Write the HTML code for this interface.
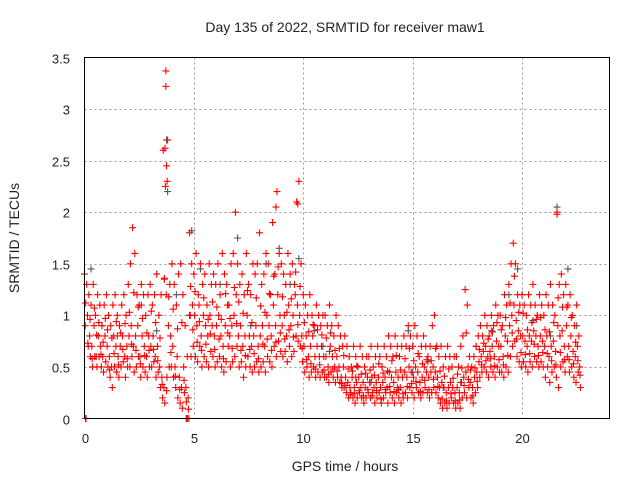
<!DOCTYPE html>
<html><head><meta charset="utf-8"><style>
body{margin:0;background:#fff}
svg{display:block;font-family:"Liberation Sans",sans-serif}
</style></head><body>
<svg id="chart" width="640" height="480" viewBox="0 0 640 480">
<rect x="0" y="0" width="640" height="480" fill="#fff"/>
<g id="grid"></g>
<g id="grey"></g>
<g id="red"></g>
<rect x="84.5" y="57.5" width="525" height="361" fill="none" stroke="#000" stroke-width="1"/>
<g id="ticks" font-size="13" fill="#222"></g>
<text x="345" y="32" text-anchor="middle" font-size="14" fill="#222">Day 135 of 2022, SRMTID for receiver maw1</text>
<text x="345" y="471" text-anchor="middle" font-size="14" fill="#222">GPS time / hours</text>
<text transform="translate(19,238) rotate(-90)" text-anchor="middle" font-size="14" fill="#222">SRMTID / TECUs</text>
</svg>
<script>
const xTicks=[0,5,10,15,20];
const yTicks=[0,0.5,1,1.5,2,2.5,3,3.5];
const yTickLabels=["0","0.5","1","1.5","2","2.5","3","3.5"];
const redHi=[1.4,1.3,1.2,1.1,1.3,1.0,1.2,1.1,0.9,1.1,
1.2,1.0,0.9,1.1,1.2,1.0,0.9,1.1,1.2,1.0,
1.3,1.5,1.85,1.6,1.2,1.1,1.3,1.2,1.0,1.2,
1.3,1.1,1.2,1.4,1.0,1.2,2.6,2.25,2.7,1.3,
1.5,1.3,1.1,1.4,1.5,1.2,0.9,0.6,1.8,1.5,
1.4,1.6,1.2,1.5,1.3,1.4,1.1,1.5,1.3,1.4,
1.3,1.5,1.2,1.6,1.4,1.3,1.1,1.5,1.6,2.0,
1.5,1.3,1.4,1.2,1.6,1.3,1.2,1.5,1.4,1.5,
1.8,1.3,1.4,1.6,1.5,1.2,1.9,1.4,2.2,1.6,
1.5,1.4,1.3,1.6,1.4,1.5,1.3,2.1,2.3,1.5,
1.2,1.1,1.0,1.2,1.0,0.9,1.1,1.0,0.9,1.0,
1.0,0.9,1.1,0.9,0.8,1.0,0.9,0.8,0.7,0.8,
0.7,0.6,0.5,0.7,0.6,0.5,0.7,0.6,0.5,0.6,
0.6,0.7,0.5,0.6,0.7,0.6,0.5,0.7,0.6,0.8,
0.7,0.6,0.8,0.7,0.6,0.7,0.8,0.7,0.9,0.8,
0.7,0.9,0.8,0.6,0.7,0.8,0.7,0.6,0.7,0.9,
1.0,0.7,0.6,0.7,0.5,0.6,0.7,0.6,0.5,0.6,
0.6,0.5,0.7,0.8,1.25,1.1,0.6,0.5,0.6,0.7,
0.8,0.9,0.8,1.0,0.9,0.8,1.0,0.9,1.1,1.0,
1.0,0.9,1.2,1.1,1.3,1.5,1.7,1.5,1.2,1.1,
1.2,1.1,1.0,1.2,1.1,1.3,1.1,1.0,1.2,1.1,
1.0,1.2,1.1,1.3,1.1,1.0,2.0,1.3,1.4,1.2,
1.3,1.1,1.2,1.0,0.9,1.1,0.8];
const redMid=[0.9,1.0,0.8,0.7,0.9,0.6,0.8,0.7,0.6,0.8,
0.7,0.6,0.5,0.8,0.7,0.6,0.7,0.8,0.6,0.7,
0.8,0.9,0.7,0.8,0.9,0.6,0.8,0.7,0.6,0.8,
0.7,0.8,0.6,0.7,0.5,0.4,0.3,1.2,0.9,0.8,
0.7,0.5,0.6,0.4,0.3,0.5,0.3,0.2,1.0,1.1,
1.0,0.9,1.1,0.8,1.0,0.9,0.8,1.0,0.9,0.8,
0.9,1.0,0.8,0.7,0.9,1.1,0.8,0.9,1.0,1.2,
0.8,0.9,0.7,0.8,1.0,0.8,0.7,0.8,0.9,0.7,
0.8,0.9,0.7,1.0,0.9,0.8,1.1,0.9,1.2,1.0,
0.9,1.0,0.8,1.1,0.9,1.0,1.2,1.1,1.0,0.8,
0.7,0.8,0.6,0.7,0.8,0.6,0.7,0.6,0.7,0.6,
0.6,0.5,0.7,0.6,0.5,0.6,0.5,0.4,0.5,0.4,
0.35,0.3,0.4,0.3,0.35,0.4,0.3,0.35,0.3,0.4,
0.35,0.4,0.3,0.35,0.4,0.3,0.35,0.4,0.3,0.45,
0.4,0.35,0.45,0.4,0.3,0.4,0.45,0.4,0.5,0.45,
0.4,0.5,0.45,0.35,0.4,0.5,0.45,0.4,0.45,0.5,
0.45,0.4,0.3,0.35,0.3,0.25,0.3,0.35,0.3,0.25,
0.3,0.25,0.35,0.4,0.45,0.5,0.35,0.3,0.4,0.45,
0.55,0.6,0.65,0.7,0.6,0.65,0.7,0.6,0.75,0.7,
0.7,0.6,0.8,0.75,0.9,1.0,1.1,0.95,0.85,0.8,
0.8,0.75,0.7,0.8,0.75,0.85,0.8,0.7,0.8,0.75,
0.7,0.8,0.6,0.7,0.75,0.65,0.9,0.8,0.85,0.7,
0.9,0.7,0.8,0.65,0.6,0.7,0.5];
const redLo=[0.0,0.7,0.6,0.5,0.6,0.5,0.6,0.5,0.45,0.55,
0.5,0.4,0.3,0.5,0.45,0.4,0.5,0.55,0.4,0.5,
0.5,0.6,0.45,0.5,0.6,0.4,0.5,0.45,0.4,0.5,
0.5,0.55,0.4,0.45,0.3,0.2,0.15,0.4,0.5,0.5,
0.4,0.3,0.2,0.15,0.1,0.25,0.0,0.0,0.6,0.7,
0.6,0.55,0.7,0.5,0.6,0.55,0.5,0.65,0.6,0.5,
0.55,0.6,0.5,0.45,0.55,0.7,0.5,0.55,0.6,0.7,
0.5,0.55,0.4,0.5,0.6,0.5,0.45,0.5,0.55,0.45,
0.5,0.55,0.45,0.6,0.55,0.5,0.7,0.6,0.75,0.65,
0.6,0.65,0.55,0.7,0.6,0.65,0.8,0.75,0.7,0.55,
0.45,0.5,0.4,0.45,0.5,0.4,0.45,0.4,0.45,0.4,
0.4,0.35,0.45,0.4,0.35,0.4,0.35,0.3,0.3,0.25,
0.2,0.25,0.2,0.15,0.2,0.25,0.2,0.15,0.2,0.25,
0.2,0.25,0.15,0.2,0.25,0.15,0.2,0.25,0.15,0.25,
0.2,0.15,0.25,0.2,0.15,0.2,0.25,0.2,0.3,0.25,
0.2,0.3,0.25,0.2,0.25,0.3,0.25,0.2,0.25,0.3,
0.25,0.2,0.15,0.1,0.15,0.1,0.15,0.2,0.15,0.1,
0.15,0.1,0.2,0.25,0.2,0.3,0.2,0.15,0.25,0.3,
0.4,0.45,0.5,0.45,0.4,0.5,0.45,0.4,0.5,0.45,
0.45,0.4,0.5,0.45,0.6,0.7,0.75,0.6,0.55,0.5,
0.55,0.5,0.45,0.55,0.5,0.6,0.55,0.5,0.55,0.5,
0.4,0.5,0.35,0.45,0.5,0.4,0.3,0.5,0.55,0.45,
0.6,0.45,0.5,0.4,0.35,0.45,0.3];
const redFill=[1.12,0.73,0.96,0.58,1.07,0.81,0.93,0.62,0.74,0.97,
0.86,0.47,0.78,0.63,0.94,0.52,0.83,0.67,0.92,0.58,
1.03,0.72,1.22,0.66,1.08,0.53,0.97,0.61,0.83,0.66,
1.04,0.67,0.93,0.56,0.78,0.33,1.36,0.27,1.18,0.64,
1.06,0.41,0.87,0.28,0.93,0.37,0.16,0.09,1.28,0.86,
1.23,0.74,0.94,0.66,1.17,0.72,0.96,0.82,1.13,0.67,
1.08,0.77,0.96,0.58,1.21,0.83,0.97,0.68,1.27,0.92,
1.13,0.66,1.02,0.61,1.24,0.67,0.93,0.63,1.17,0.58,
1.09,0.72,1.03,0.77,1.21,0.66,1.38,0.74,1.47,0.83,
1.18,0.77,1.03,0.86,1.16,0.79,1.42,0.91,1.28,0.68,
0.93,0.57,0.84,0.53,0.91,0.48,0.86,0.52,0.81,0.47,
0.78,0.43,0.83,0.48,0.66,0.46,0.68,0.34,0.61,0.32,
0.48,0.23,0.46,0.24,0.51,0.27,0.43,0.22,0.44,0.28,
0.47,0.22,0.42,0.27,0.53,0.19,0.44,0.28,0.46,0.31,
0.56,0.26,0.61,0.28,0.47,0.24,0.58,0.31,0.68,0.34,
0.56,0.36,0.63,0.26,0.53,0.37,0.57,0.28,0.56,0.38,
0.68,0.31,0.46,0.19,0.41,0.17,0.48,0.24,0.39,0.17,
0.43,0.18,0.49,0.32,0.83,0.38,0.47,0.22,0.49,0.36,
0.67,0.52,0.73,0.56,0.77,0.58,0.84,0.51,0.93,0.57,
0.86,0.52,0.98,0.61,1.12,0.83,1.38,0.77,1.03,0.64,
1.02,0.62,0.86,0.63,0.93,0.72,0.96,0.61,0.98,0.64,
0.86,0.63,0.84,0.56,0.93,0.52,1.17,0.64,1.08,0.57,
1.08,0.57,0.98,0.53,0.74,0.56,0.42];
const extraT=[3.72,3.72,3.68,3.75,3.78,3.65,0.05,4.65,4.7,8.75,9.75,21.6];
const extraV=[3.37,3.22,2.62,2.45,2.3,1.35,0.0,0.0,0.0,2.05,2.08,1.98];
const greyT=[0.3,0.8,1.5,2.6,3.3,3.75,3.8,4.2,4.9,5.3,6.2,7.0,7.6,8.3,8.9,9.4,9.8,10.5,11.2,12.4,13.1,13.6,14.3,15.0,15.7,16.4,17.2,17.9,18.6,19.4,19.8,20.5,21.3,21.6,22.1,22.5,4.8,6.6,10.9,14.8];
const greyV=[1.45,0.9,0.8,1.1,0.85,2.7,2.2,1.2,1.82,1.45,1.3,1.75,0.9,1.5,1.65,1.3,1.55,0.85,0.65,0.4,0.35,0.5,0.3,0.45,0.55,0.3,0.35,0.7,0.85,1.2,1.45,0.95,0.8,2.05,1.45,0.9,1.0,1.1,0.7,0.85];

const X0=84.5,X1=609.5,Y0=418.5,Y1=57.5;
const xs=t=>X0+(t/24)*(X1-X0);
const ys=v=>Y0-(v/3.5)*(Y0-Y1);
const NS="http://www.w3.org/2000/svg";
function plus(g,t,v,col){
  const p=document.createElementNS(NS,"path");
  const x=xs(t),y=ys(v);
  p.setAttribute("d",`M${x-3.5},${y}H${x+3.5}M${x},${y-3.5}V${y+3.5}`);
  p.setAttribute("stroke",col);p.setAttribute("stroke-width","1.1");
  
  
  g.appendChild(p);
}
const grid=document.getElementById("grid"),ticks=document.getElementById("ticks");
xTicks.forEach(t=>{
  const x=Math.round(xs(t))+0.5;
  if(t>0){const l=document.createElementNS(NS,"line");l.setAttribute("x1",x);l.setAttribute("x2",x);l.setAttribute("y1",Y1);l.setAttribute("y2",Y0);l.setAttribute("stroke","#999");l.setAttribute("stroke-dasharray","2,3");
  
  
  grid.appendChild(l);}
  const tx=document.createElementNS(NS,"text");tx.setAttribute("x",x);tx.setAttribute("y",443);tx.setAttribute("text-anchor","middle");tx.textContent=t;
  
  
  ticks.appendChild(tx);
});
yTicks.forEach((v,i)=>{
  const y=Math.round(ys(v))+0.5;
  if(v>0&&v<3.5){const l=document.createElementNS(NS,"line");l.setAttribute("x1",X0);l.setAttribute("x2",X1);l.setAttribute("y1",y);l.setAttribute("y2",y);l.setAttribute("stroke","#999");l.setAttribute("stroke-dasharray","2,3");
  
  
  grid.appendChild(l);}
  const tx=document.createElementNS(NS,"text");tx.setAttribute("x",70);tx.setAttribute("y",y+5);tx.setAttribute("text-anchor","end");tx.textContent=yTickLabels[i];
  
  
  ticks.appendChild(tx);
});
const gg=document.getElementById("grey"),rg=document.getElementById("red");
greyT.forEach((t,i)=>plus(gg,t,greyV[i],"#555"));
redHi.forEach((v,i)=>plus(rg,i*0.1,v,"#f00"));
redMid.forEach((v,i)=>plus(rg,i*0.1+0.035,v,"#f00"));
redLo.forEach((v,i)=>plus(rg,i*0.1+0.07,v,"#f00"));
redFill.forEach((v,i)=>plus(rg,i*0.1+0.052,v,"#f00"));
extraT.forEach((t,i)=>plus(rg,t,extraV[i],"#f00"));
</script>
</body></html>
